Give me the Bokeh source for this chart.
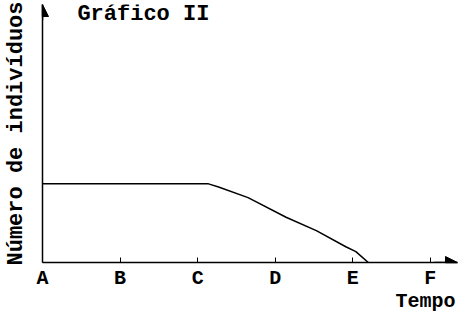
from bokeh.plotting import figure
from bokeh.models import (Arrow, NormalHead, Label, FixedTicker, Range1d, Title)
from bokeh.embed import file_html
from bokeh.resources import INLINE

# ---- data ----
time_labels = ["A", "B", "C", "D", "E", "F"]
tick_positions = [0, 1, 2, 3, 4, 5]
curve_t = [0, 2.14, 2.27, 2.65, 3.14, 3.53, 3.91, 4.04, 4.20]
curve_n = [100, 100, 96, 82.5, 57.5, 40.5, 20, 13.75, 0]
title_text = "Gráfico II"
y_label_text = "Número de indivíduos"
x_label_text = "Tempo"

FONT = "Liberation Mono"
X_MAX = 5.35
Y_MAX = 328

p = figure(width=460, height=311, output_backend="svg", toolbar_location=None,
           x_range=Range1d(0, X_MAX), y_range=Range1d(0, Y_MAX),
           min_border_left=40, min_border_right=3, min_border_top=4,
           min_border_bottom=0, background_fill_color="white",
           border_fill_color="white")
p.outline_line_color = None
p.xgrid.visible = False
p.ygrid.visible = False

# x axis
xa = p.xaxis[0]
xa.ticker = FixedTicker(ticks=tick_positions)
xa.major_label_overrides = {t: l for t, l in zip(tick_positions, time_labels)}
xa.major_tick_in = 5
xa.major_tick_out = 0
xa.minor_tick_line_color = None
xa.axis_line_color = "black"
xa.axis_line_width = 1.5
xa.major_tick_line_color = "black"
xa.major_tick_line_width = 1
xa.major_label_text_font = FONT
xa.major_label_text_font_style = "bold"
xa.major_label_text_font_size = "20px"
xa.major_label_text_color = "black"
xa.major_label_standoff = 4

# y axis
ya = p.yaxis[0]
ya.ticker = FixedTicker(ticks=[])
ya.minor_tick_line_color = None
ya.major_tick_line_color = None
ya.axis_line_color = "black"
ya.axis_line_width = 1.5
ya.axis_label = y_label_text
ya.axis_label_text_font = FONT
ya.axis_label_text_font_style = "bold"
ya.axis_label_text_font_size = "22px"
ya.axis_label_text_color = "black"
ya.axis_label_standoff = 14

# arrow heads on axes
p.add_layout(Arrow(end=NormalHead(size=12, fill_color="black", line_color="black"),
                   x_start=0, y_start=Y_MAX - 20, x_end=0, y_end=Y_MAX,
                   line_color="black", line_width=1.5))
p.add_layout(Arrow(end=NormalHead(size=12, fill_color="black", line_color="black"),
                   x_start=X_MAX - 0.3, y_start=0, x_end=X_MAX, y_end=0,
                   line_color="black", line_width=1.5))

# curve
p.line(curve_t, curve_n, line_color="black", line_width=1.5)

# chart title inside the plot area
p.add_layout(Label(x=0.45, y=Y_MAX, y_offset=3, text=title_text,
                   text_font=FONT, text_font_style="bold", text_font_size="22px",
                   text_baseline="top", text_align="left", text_color="black"))

# x axis name, right aligned under the axis end
p.add_layout(Title(text=x_label_text, align="right", vertical_align="top",
                   standoff=-6, offset=2,
                   text_font=FONT, text_font_style="bold", text_font_size="20px",
                   text_color="black"), "below")

open("out.html", "w").write(file_html(p, INLINE))
